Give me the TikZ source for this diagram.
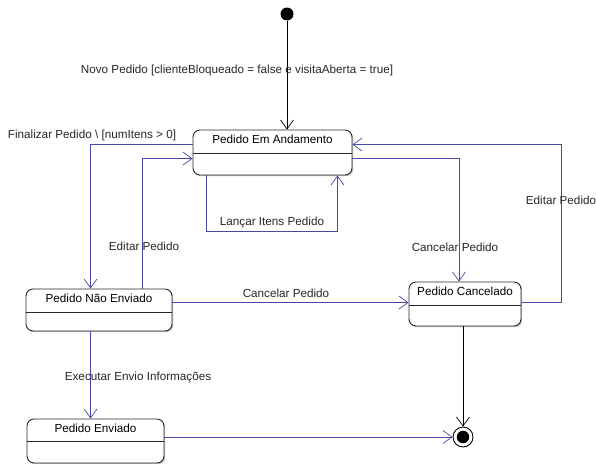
\documentclass[tikz,border=0pt]{standalone}
\usepackage{fontspec}
\setmainfont{Liberation Sans}
\usetikzlibrary{arrows.meta,shadows}
\definecolor{transblue}{RGB}{72,72,168}
\definecolor{boxedge}{RGB}{40,40,40}
\tikzset{
  statebox/.style={draw=boxedge, line width=0.9pt, rounded corners=7pt, fill=white,
    drop shadow={shadow xshift=1.2pt, shadow yshift=-1.2pt, opacity=0.25, fill=black},
    inner sep=0pt},
  stitle/.style={font=\fontsize{11.7}{13}\selectfont, inner sep=0pt},
  lbl/.style={font=\fontsize{11.7}{13}\selectfont, text=black!85, inner sep=0pt},
  vtip/.tip={Straight Barb[length=9pt, width=13pt, line width=0.7pt]},
  tr/.style={draw=transblue, line width=0.8pt, -vtip},
  trk/.style={draw=black, line width=0.8pt, -vtip},
  divider/.style={draw=boxedge, line width=0.9pt},
}
\begin{document}
\begin{tikzpicture}[x=1pt, y=-1pt]
  \useasboundingbox (0,0) rectangle (596,463);

  % pseudo states
  \node[circle, fill=black, minimum size=13pt, inner sep=0pt] (ini) at (287,14) {};
  \node[circle, draw=black, line width=0.9pt, fill=white, minimum size=20pt, inner sep=0pt] (fin) at (463,437) {};
  \node[circle, fill=black, minimum size=12.5pt, inner sep=0pt] (finc) at (fin) {};

  % states
  \node[statebox, minimum width=159pt, minimum height=45pt] (anda) at (272.5,152.5) {};
  \node[statebox, minimum width=146pt, minimum height=42pt] (naoenv) at (99,310) {};
  \node[statebox, minimum width=112pt, minimum height=44pt] (canc) at (465,304) {};
  \node[statebox, minimum width=137pt, minimum height=44pt] (env) at (95.5,441) {};

  % state titles and compartments
  \node[stitle] (t1) at ([yshift=-10pt]anda.north) {Pedido Em Andamento};
  \draw[divider] ([yshift=-24pt]anda.north west) -- ([yshift=-24pt]anda.north east);
  \node[stitle] (t2) at ([yshift=-9.5pt]naoenv.north) {Pedido Não Enviado};
  \draw[divider] ([yshift=-24pt]naoenv.north west) -- ([yshift=-24pt]naoenv.north east);
  \node[stitle] (t3) at ([yshift=-10pt]canc.north) {Pedido Cancelado};
  \draw[divider] ([yshift=-24pt]canc.north west) -- ([yshift=-24pt]canc.north east);
  \node[stitle] (t4) at ([yshift=-9.5pt]env.north) {Pedido Enviado};
  \draw[divider] ([yshift=-23pt]env.north west) -- ([yshift=-23pt]env.north east);

  % transitions
  \draw[trk] (ini) -- (ini |- anda.north);
  \draw[trk] (fin |- canc.south) -- (fin.north);

  \draw[tr] ([xshift=14pt]anda.south west) -- ++(0,56) -| ([xshift=-15pt]anda.south east);
  \draw[tr] ([yshift=-15pt]anda.north west) -| ([xshift=65pt]naoenv.north west);
  \draw[tr] ([xshift=117pt]naoenv.north west) |- ([yshift=-29pt]anda.north west);
  \draw[tr] ([yshift=-29pt]anda.north east) -| ([xshift=-6pt]canc.north);
  \draw[tr] ([yshift=-21pt]canc.north east) -- ++(40,0) |- ([yshift=-15pt]anda.north east);
  \draw[tr] ([yshift=-14pt]naoenv.north east) -- ([yshift=-21pt]canc.north west);
  \coordinate (ne) at ([xshift=65pt]naoenv.south west);
  \draw[tr] (ne) -- (ne |- env.north);
  \draw[tr] (env.east |- fin) -- (fin.west);

  % transition labels
  \node[lbl] (l1) at (237,70) {Novo Pedido [clienteBloqueado = false e visitaAberta = true]};
  \node[lbl] (l2) at (272,222) {Lançar Itens Pedido};
  \node[lbl] (l3) at (92,135) {Finalizar Pedido \textbackslash\ [numItens > 0]};
  \node[lbl] (l4) at (144,246) {Editar Pedido};
  \node[lbl] (l5) at (561,200) {Editar Pedido};
  \node[lbl] (l6) at (455,247) {Cancelar Pedido};
  \node[lbl] (l7) at (286,293) {Cancelar Pedido};
  \node[lbl] (l8) at (138,377) {Executar Envio Informações};
\end{tikzpicture}
\end{document}
